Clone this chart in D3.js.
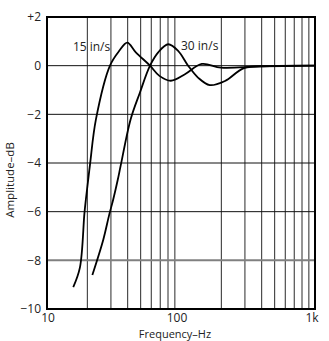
<!DOCTYPE html>
<html>
<head>
<meta charset="utf-8">
<script src="https://cdn.jsdelivr.net/npm/d3@7"></script>
<style>
  html, body { margin: 0; padding: 0; background: #fff; }
  svg { display: block; }
  text { font-family: "Open Sans", "DejaVu Sans", sans-serif; fill: #222; }
</style>
</head>
<body>
<svg id="chart" width="329" height="341"></svg>
<script>
// Response curves for two tape speeds (frequency in Hz, amplitude in dB)
const freq15 = [15.7, 17.6, 19.0, 19.5, 20.9, 23.2, 29.5, 34.5, 39.7, 46, 58.7, 69, 84, 107, 143, 199, 390, 1000];
const amp15  = [-9.1, -8.3, -6.1, -5.5, -4.1, -2.2, 0.0, 0.6, 0.95, 0.55, 0.0, -0.42, -0.62, -0.35, 0.07, -0.08, -0.03, 0.0];

const freq30 = [21.8, 26.3, 29.2, 31.2, 33.7, 35.5, 42.1, 49.4, 58.7, 67.6, 80.4, 95.5, 113, 134.5, 164, 213, 295, 461, 1000];
const amp30  = [-8.6, -7.15, -6.1, -5.5, -4.7, -4.1, -2.2, -1.1, 0.0, 0.55, 0.88, 0.6, 0.0, -0.5, -0.8, -0.63, -0.1, -0.02, 0.0];

const curveLabels = ["15 in/s", "30 in/s"];
const labelFreq = [15.6, 100];
const labelAmp = [0.6, 0.65];

const yTicks = [2, 0, -2, -4, -6, -8, -10];
const yTickText = ["+2", "0", "\u22122", "\u22124", "\u22126", "\u22128", "\u221210"];
const xTicks = [10, 100, 1000];
const xTickText = ["10", "100", "1k"];
const gridFreqs = [20, 30, 40, 50, 60, 70, 80, 90, 200, 300, 400, 500, 600, 700, 800, 900];

const svg = d3.select("#chart");
const plotLeft = 47, plotRight = 315, plotTop = 17, plotBottom = 309;

const x = d3.scaleLog().domain([10, 1000]).range([plotLeft, plotRight]);
const y = d3.scaleLinear().domain([-10, 2]).range([plotBottom, plotTop]);

// vertical grid
svg.append("g").selectAll("line").data(gridFreqs).join("line")
  .attr("x1", d => x(d)).attr("x2", d => x(d))
  .attr("y1", plotTop).attr("y2", plotBottom)
  .attr("stroke", "#2a2a2a").attr("stroke-width", 1);

// horizontal grid
svg.append("g").selectAll("line").data([0, -2, -4, -6, -8]).join("line")
  .attr("x1", plotLeft).attr("x2", plotRight)
  .attr("y1", d => y(d)).attr("y2", d => y(d))
  .attr("stroke", d => d === -8 ? "#808080" : "#111")
  .attr("stroke-width", d => d === -8 ? 2 : 1);

// frame
svg.append("rect")
  .attr("x", plotLeft).attr("y", plotTop)
  .attr("width", plotRight - plotLeft).attr("height", plotBottom - plotTop)
  .attr("fill", "none").attr("stroke", "#000").attr("stroke-width", 2);

// curves
const line = d3.line()
  .x(d => x(d[0])).y(d => y(d[1]))
  .curve(d3.curveCatmullRom.alpha(0.5));

[[freq15, amp15], [freq30, amp30]].forEach(([f, a]) => {
  svg.append("path")
    .datum(f.map((v, i) => [v, a[i]]))
    .attr("d", line)
    .attr("fill", "none").attr("stroke", "#000").attr("stroke-width", 1.8);
});

// curve labels
svg.append("g").selectAll("text").data(curveLabels).join("text")
  .attr("x", (d, i) => x(labelFreq[i]))
  .attr("y", (d, i) => y(labelAmp[i]))
  .attr("font-size", 12)
  .text(d => d);

// y tick labels
svg.append("g").selectAll("text").data(yTicks).join("text")
  .attr("x", 41).attr("y", d => y(d)).attr("dy", "0.35em")
  .attr("text-anchor", "end").attr("font-size", 12)
  .text((d, i) => yTickText[i]);

// x tick labels
svg.append("g").selectAll("text").data(xTicks).join("text")
  .attr("x", (d, i) => x(d) + (i === 1 ? -4 : i === 2 ? -3 : 1))
  .attr("y", 322)
  .attr("text-anchor", "middle").attr("font-size", 12)
  .text((d, i) => xTickText[i]);

// axis titles
svg.append("text")
  .attr("x", 175).attr("y", 338)
  .attr("text-anchor", "middle").attr("font-size", 11)
  .text("Frequency\u2013Hz");

svg.append("text")
  .attr("transform", "translate(14,180) rotate(-90)")
  .attr("text-anchor", "middle").attr("font-size", 11.5)
  .text("Amplitude\u2013dB");
</script>
</body>
</html>
